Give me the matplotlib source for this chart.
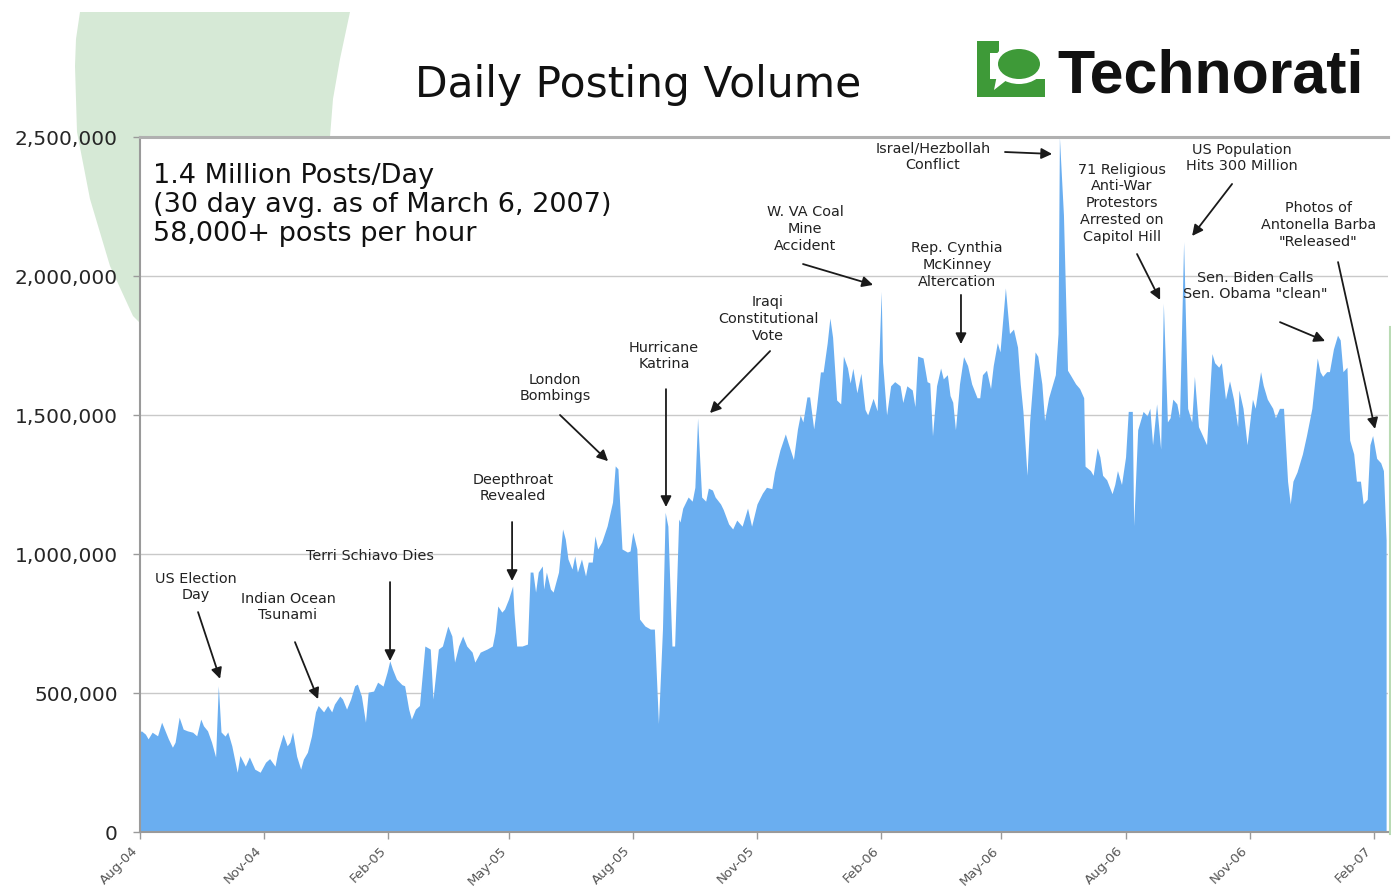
import matplotlib
matplotlib.use("Agg")
import matplotlib.dates as mdates
import matplotlib.pyplot as plt
import numpy as np
from matplotlib.patches import Ellipse, Polygon, Rectangle
from matplotlib.ticker import FuncFormatter
from matplotlib.transforms import ScaledTranslation

START = np.datetime64("2004-08-01")

# days after START
DAY = [
    0, 1, 4, 6, 9, 13, 16, 19, 21, 24, 26, 29, 32, 35, 39, 42, 45, 47, 50, 53,
    56, 58, 60, 63, 65, 68, 72, 74, 78, 81, 85, 89, 93, 96, 100, 102, 106, 109,
    111, 113, 116, 119, 121, 124, 127, 130, 132, 136, 139, 142, 144, 148, 150,
    153, 156, 159, 161, 164, 167, 169, 173, 176, 180, 183, 185, 187, 190, 194,
    196, 199, 201, 204, 207, 211, 215, 217, 221, 224, 228, 231, 233, 236, 239,
    242, 246, 248, 252, 257, 261, 263, 265, 268, 270, 273, 276, 277, 279, 283,
    287, 289, 291, 293, 295, 298, 299, 301, 304, 306, 310, 313, 315, 317, 320,
    322, 324, 327, 330, 332, 335, 337, 339, 342, 346, 350, 352, 354, 357, 361,
    363, 365, 368, 370, 374, 378, 381, 384, 387, 389, 391, 394, 396, 399,
    400, 402, 406, 409, 411, 413, 416, 419, 421, 424, 426, 430, 432, 436, 439,
    442, 446, 450, 453, 457, 461, 464, 468, 470, 474, 478, 480, 484, 487, 489,
    491, 494, 496, 499, 501, 504, 506, 509, 511, 513, 516, 519, 521, 524, 526,
    528, 531, 534, 537, 539, 543, 546, 549, 550, 553, 556, 559, 563, 565, 568,
    572, 574, 576, 580, 583, 585, 587, 590, 593, 595, 598, 600,
    602, 604, 607, 610, 613, 616, 620, 622, 624, 627, 630, 632, 635, 637, 639,
    641, 644, 647, 650, 652, 654, 657, 659, 663, 665, 668, 670, 673, 676, 678,
    680, 681, 684, 687, 689, 693, 696, 699, 700, 704, 706, 709, 711, 713, 716,
    720, 722, 724, 727, 730, 732, 735, 736, 739, 743, 746,
    748, 750, 753, 756, 758, 761, 763, 765, 768, 770, 773, 776, 779, 781, 784,
    787, 790, 794, 796, 799, 801, 804, 807, 810, 813, 814, 817, 820, 824, 826,
    830, 832, 835, 839, 841, 844, 847, 850, 852, 854, 857, 861, 864, 868, 872,
    874, 876, 879, 881, 884, 887, 889, 891, 894, 896, 899, 901, 904, 906, 909,
    911, 913, 916, 919, 921, 923,
]

# posts per day, thousands
POSTS_K = [
    360, 364, 352, 335, 359, 346, 395, 359, 335, 305, 323, 413, 370, 364, 359,
    346, 406, 382, 364, 323, 270, 526, 360, 345, 360, 310, 215, 275, 237, 270,
    226, 215, 251, 264, 237, 287, 352, 310, 323, 360, 273, 226, 262, 287, 345,
    432, 455, 432, 455, 432, 460, 489, 478, 442, 478, 526, 532, 489, 395, 503,
    507, 539, 525, 575, 616, 586, 550, 530,
    526, 442, 406, 442, 455, 669, 658, 478, 658, 669, 741, 705, 611, 669, 705,
    669, 647, 611, 647, 658, 669, 719, 813, 791, 802, 838, 885, 791, 669, 669,
    676, 935, 935, 863, 935, 957, 874, 935, 874, 863, 935, 1090, 1054, 982, 946,
    993, 935, 982, 921, 971, 971, 1065, 1018, 1043, 1101, 1187, 1317, 1306,
    1018, 1007, 1011, 1079, 1018, 766, 741, 730, 730, 390, 730, 1150, 1100,
    669, 669, 1126,
    1115, 1165, 1205, 1190, 1240, 1489, 1205, 1190, 1237, 1230, 1205, 1180,
    1160, 1108, 1090, 1122, 1100, 1165, 1100, 1180, 1219, 1240, 1235, 1295,
    1374, 1432, 1400, 1340, 1450, 1500, 1475, 1565, 1565, 1450, 1525, 1655,
    1655, 1759, 1849, 1780, 1554, 1540, 1712, 1670, 1615, 1668, 1580, 1650,
    1520, 1500, 1560, 1515, 1944, 1690, 1500, 1605, 1620, 1605, 1545, 1605,
    1590, 1530, 1712, 1705, 1620, 1615, 1425, 1605, 1669, 1630, 1645, 1570,
    1546, 1447, 1612, 1710, 1678, 1612, 1562, 1562, 1645, 1661, 1595, 1678,
    1760, 1727, 1842, 1957, 1793, 1809, 1744, 1612, 1513, 1283, 1480, 1727,
    1711, 1612, 1480, 1562, 1612, 1645, 1793, 2500, 2220, 1661, 1645, 1612,
    1595, 1562, 1316, 1300, 1283, 1382, 1349, 1283, 1267, 1217, 1250, 1300,
    1250, 1349, 1513, 1513, 1102, 1447, 1513, 1497,
    1524, 1393, 1540, 1377, 1902, 1475, 1490, 1557, 1540, 1490, 2123, 1524,
    1475, 1639, 1458, 1426, 1393, 1721, 1688, 1672, 1688, 1557, 1623, 1557,
    1458, 1590, 1524, 1393, 1557, 1524, 1656, 1606, 1557, 1524, 1490, 1524,
    1524, 1262, 1180, 1262, 1295, 1360, 1426, 1524, 1705, 1656, 1639, 1656,
    1656, 1738, 1787, 1770, 1656, 1672, 1410, 1360, 1262, 1262, 1180, 1197,
    1393, 1426, 1344, 1328, 1300, 1050,
]

Y_TICKS = [0, 500_000, 1_000_000, 1_500_000, 2_000_000, 2_500_000]

SUMMARY = "1.4 Million Posts/Day\n(30 day avg. as of March 6, 2007)\n58,000+ posts per hour"

# label, text centre, arrow tail, arrow tip -- (day, posts)
EVENTS = [
    ("US Election\nDay", (41.5, 885e3), (43, 791e3), (59.3, 551e3)),
    ("Indian Ocean\nTsunami", (109.6, 813e3), (114.8, 683e3), (131.9, 478e3)),
    ("Terri Schiavo Dies", (170.4, 996e3), (185.2, 899e3), (185.2, 615e3)),
    ("Deepthroat\nRevealed", (276.3, 1241e3), (275.6, 1115e3), (275.6, 903e3)),
    ("London\nBombings", (307.4, 1601e3), (311.1, 1500e3), (346.7, 1334e3)),
    ("Hurricane\nKatrina", (388.1, 1716e3), (389.6, 1593e3), (389.6, 1169e3)),
    ("Iraqi\nConstitutional\nVote", (465.2, 1849e3), (466.7, 1730e3), (422.2, 1507e3)),
    ("W. VA Coal\nMine\nAccident", (492.6, 2173e3), (491.1, 2043e3), (543.0, 1968e3)),
    ("Israel/Hezbollah\nConflict", (587.4, 2432e3), (640.7, 2446e3), (675.6, 2439e3)),
    ("Rep. Cynthia\nMcKinney\nAltercation", (605.2, 2043e3), (608.1, 1932e3), (608.1, 1755e3)),
    ("71 Religious\nAnti-War\nProtestors\nArrested on\nCapitol Hill",
     (727.4, 2266e3), (738.5, 2079e3), (755.6, 1914e3)),
    ("US Population\nHits 300 Million", (816.3, 2428e3), (808.9, 2331e3), (779.3, 2144e3)),
    ("Photos of\nAntonella Barba\n\"Released\"", (872.6, 2187e3), (887.4, 2050e3), (914.8, 1450e3)),
    ("Sen. Biden Calls\nSen. Obama \"clean\"", (825.9, 1968e3), (844.4, 1834e3), (877.8, 1766e3)),
]

BLUE = "#6aaef0"
SAGE = "#d6e9d6"
LOGO_GREEN = "#3e9a38"
W, H = 1391, 895

fig = plt.figure(figsize=(W / 100, H / 100), dpi=100)
fig.patch.set_facecolor("white")

# slide backdrop: sage crescent, logo, title (pixel coords, y down)
bg = fig.add_axes([0, 0, 1, 1], zorder=0)
bg.set_xlim(0, W)
bg.set_ylim(H, 0)
bg.axis("off")
bg.add_patch(Polygon(
    [(80, 13), (76, 40), (75, 67), (77, 133), (90, 200), (110, 267), (133, 317),
     (142, 326), (330, 326), (330, 138), (333, 100), (340, 60), (350, 13)],
    closed=True, facecolor=SAGE, edgecolor="none"))
bg.plot([1389.5, 1389.5], [328, 835], color="#b9dbb4", lw=1.5)

bg.text(638, 97, "Daily Posting Volume", ha="center", va="baseline",
        fontsize=30.5, family="DejaVu Sans", color="#111111")

# Technorati mark
bg.add_patch(Rectangle((977, 42), 13, 56, facecolor=LOGO_GREEN, edgecolor="none"))
bg.add_patch(Rectangle((977, 42), 22, 12, facecolor=LOGO_GREEN, edgecolor="none"))
bg.add_patch(Rectangle((977, 80), 68, 18, facecolor=LOGO_GREEN, edgecolor="none"))
bg.add_patch(Ellipse((1019, 65), 52, 40, facecolor="white", edgecolor="none"))
bg.add_patch(Ellipse((1019, 65), 42, 30, facecolor=LOGO_GREEN, edgecolor="none"))
bg.add_patch(Polygon([(997, 76), (1008, 80), (994, 91)], closed=True,
                     facecolor="white", edgecolor="none"))
bg.text(1057, 92, "Technorati", ha="left", va="baseline", fontsize=43.8,
        family="Liberation Sans", weight="bold", color="#111111")

# chart
ax = fig.add_axes([140 / W, 62 / H, 1248 / W, 695 / H], zorder=1)
ax.set_facecolor("white")

dates = START + np.array(DAY).astype("timedelta64[D]")
posts = np.array(POSTS_K) * 1000
ax.fill_between(dates, posts, 0, color=BLUE, lw=0, zorder=2)

t0 = mdates.date2num(START)
ax.set_xlim(t0, t0 + 924.4)
ax.set_ylim(0, 2_500_000)
ax.set_yticks(Y_TICKS)
ax.yaxis.set_major_formatter(FuncFormatter(lambda v, _: f"{v:,.0f}"))
ax.xaxis.set_major_locator(mdates.MonthLocator(bymonth=(2, 5, 8, 11)))
ax.xaxis.set_major_formatter(mdates.DateFormatter("%b-%y"))

ax.set_axisbelow(True)
ax.yaxis.grid(True, color="#c9c9c9", lw=1.0)
ax.xaxis.grid(False)
for side in ("left", "bottom"):
    ax.spines[side].set_color("#9a9a9a")
    ax.spines[side].set_linewidth(1.5)
ax.spines["top"].set_color("#b0b0b0")
ax.spines["top"].set_linewidth(2.2)
ax.spines["right"].set_visible(False)

ax.tick_params(axis="y", length=5, width=1, color="#9a9a9a", pad=11,
               labelsize=14.5, labelcolor="#262626")
ax.tick_params(axis="x", length=5, width=1, color="#9a9a9a", pad=3,
               labelsize=9.5, labelcolor="#555555", labelrotation=45)

ax.text(0.0104, 0.964, SUMMARY, transform=ax.transAxes, ha="left", va="top",
        fontsize=19.5, linespacing=1.16, color="#111111", family="DejaVu Sans")

for label, txt, tail, tip in EVENTS:
    ax.text(t0 + txt[0], txt[1], label, ha="center", va="center", fontsize=10.4,
            linespacing=1.25, color="#222222", zorder=5)
    ax.annotate("", xy=(t0 + tip[0], tip[1]), xytext=(t0 + tail[0], tail[1]),
                arrowprops=dict(arrowstyle="-|>", color="#1a1a1a", lw=1.3,
                                mutation_scale=16, shrinkA=0, shrinkB=0),
                zorder=5)

fig.canvas.draw()
shift = ScaledTranslation(-9 / 100, 0, fig.dpi_scale_trans)
for lbl in ax.get_xticklabels():
    lbl.set_ha("right")
    lbl.set_rotation_mode("anchor")
    lbl.set_transform(lbl.get_transform() + shift)

fig.savefig("out.png", dpi=100, facecolor="white")
